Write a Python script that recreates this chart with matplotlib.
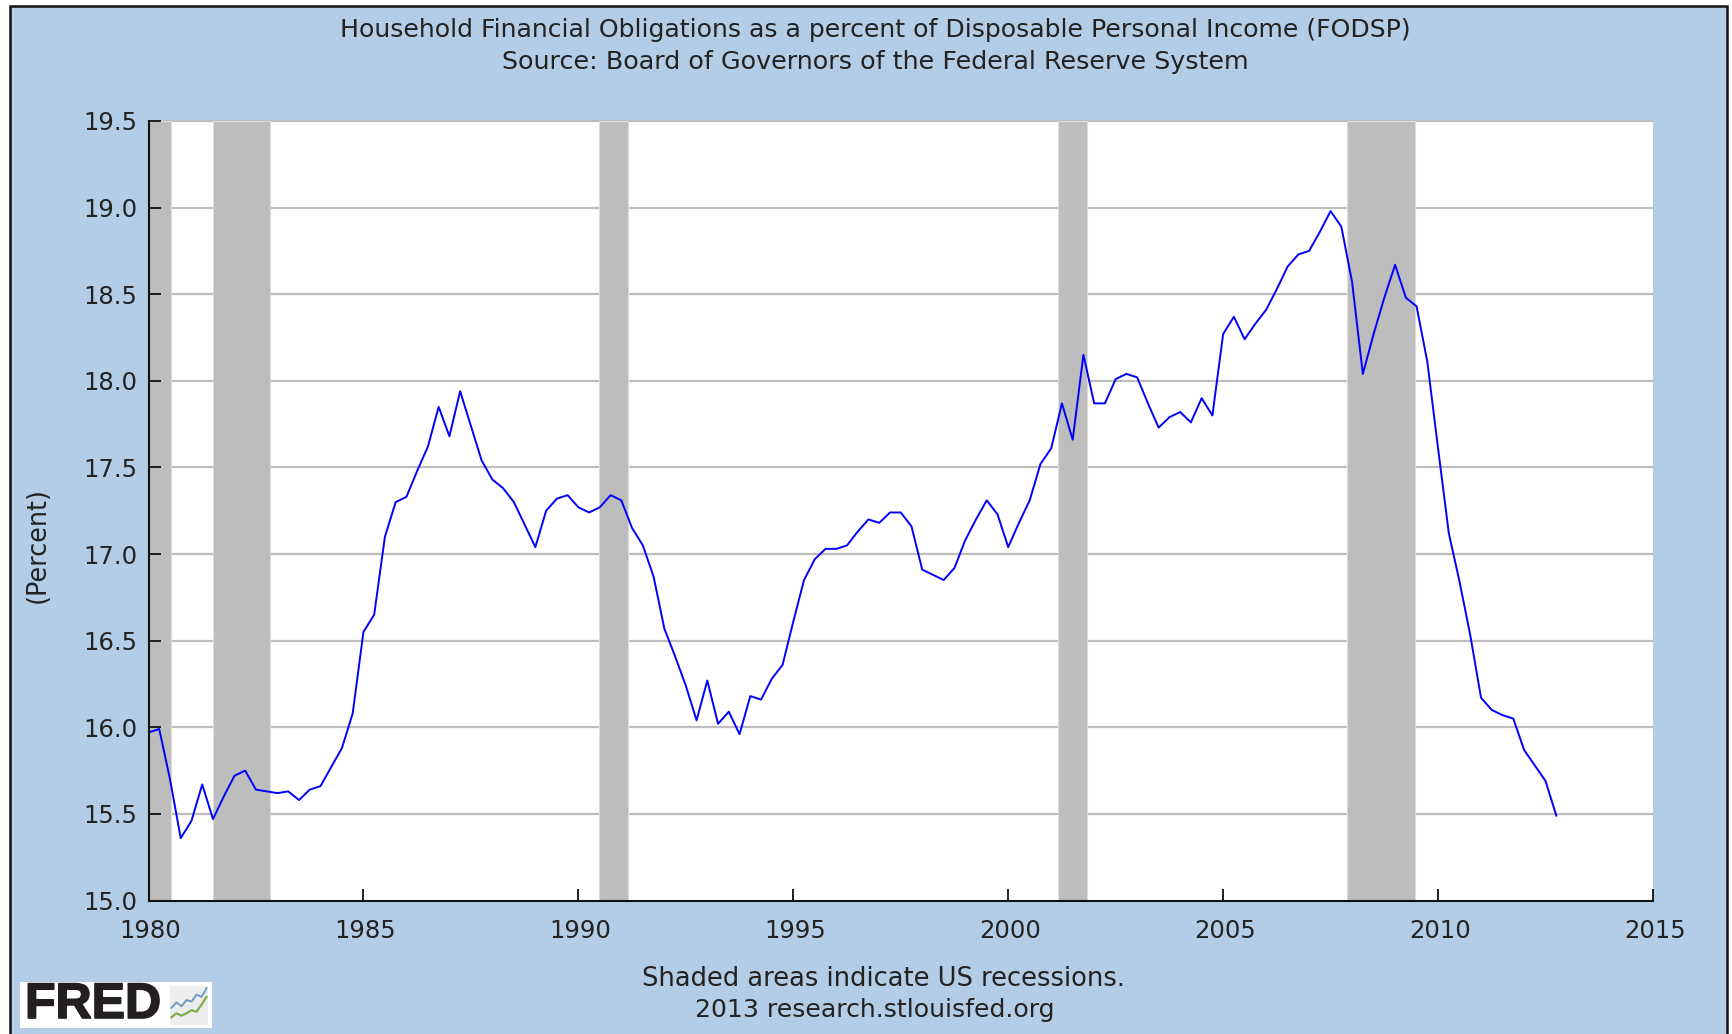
import numpy as np
import matplotlib
matplotlib.use('Agg')
import matplotlib.pyplot as plt
import matplotlib.patheffects as pe
from matplotlib.patches import Rectangle
from matplotlib.transforms import ScaledTranslation

# Квартальные значения FODSP, 1980Q1 - 2012Q4
fodsp = [
    15.97, 15.99, 15.70, 15.36, 15.46, 15.67, 15.47, 15.60,
    15.72, 15.75, 15.64, 15.63, 15.62, 15.63, 15.58, 15.64,
    15.66, 15.77, 15.88, 16.08, 16.55, 16.65, 17.10, 17.30,
    17.33, 17.48, 17.62, 17.85, 17.68, 17.94, 17.74, 17.54,
    17.43, 17.38, 17.30, 17.17, 17.04, 17.25, 17.32, 17.34,
    17.27, 17.24, 17.27, 17.34, 17.31, 17.15, 17.05, 16.87,
    16.57, 16.41, 16.24, 16.04, 16.27, 16.02, 16.09, 15.96,
    16.18, 16.16, 16.28, 16.36, 16.61, 16.85, 16.97, 17.03,
    17.03, 17.05, 17.13, 17.20, 17.18, 17.24, 17.24, 17.16,
    16.91, 16.88, 16.85, 16.92, 17.08, 17.20, 17.31, 17.23,
    17.04, 17.18, 17.31, 17.52, 17.61, 17.87, 17.66, 18.15,
    17.87, 17.87, 18.01, 18.04, 18.02, 17.87, 17.73, 17.79,
    17.82, 17.76, 17.90, 17.80, 18.27, 18.37, 18.24, 18.33,
    18.41, 18.53, 18.66, 18.73, 18.75, 18.86, 18.98, 18.89,
    18.57, 18.04, 18.27, 18.48, 18.67, 18.48, 18.43, 18.11,
    17.61, 17.12, 16.84, 16.53, 16.17, 16.10, 16.07, 16.05,
    15.87, 15.78, 15.69, 15.49,
]
quarters = 1980 + np.arange(len(fodsp)) / 4

# Рецессии (начало, конец)
recession_start = [1980.0, 1981.49, 1990.48, 2001.15, 2007.89]
recession_end = [1980.53, 1982.83, 1991.16, 2001.83, 2009.46]

y_ticks = [15.0, 15.5, 16.0, 16.5, 17.0, 17.5, 18.0, 18.5, 19.0, 19.5]
x_ticks = [1980, 1985, 1990, 1995, 2000, 2005, 2010, 2015]

# Линии значка FRED
icon_blue = [2.2, 2.9, 2.4, 3.2, 3.0, 3.9, 3.6, 4.7]
icon_green = [1.0, 1.5, 1.2, 1.5, 1.9, 1.7, 2.6, 3.6]

W, H = 1733, 1034
BG = '#B3CDE6'
TEXT = '#222222'


def fx(px):
    return px / W


def fy(py):
    return 1 - py / H


fig = plt.figure(figsize=(W / 100, H / 100), dpi=100, facecolor='white')

# Голубая подложка с чёрной рамкой
fig.add_artist(Rectangle((fx(10), fy(1040)), (1727.5 - 10) / W, (1040 - 5.5) / H,
                         transform=fig.transFigure, facecolor=BG,
                         edgecolor='#111111', linewidth=1.8, zorder=-2))

ax = fig.add_axes([fx(148.5), fy(900.5), (1653 - 148.5) / W, (900.5 - 121) / H])
ax.set_xlim(1980, 2015)
ax.set_ylim(15, 19.5)
ax.set_facecolor('white')
ax.set_axisbelow(False)

for y in y_ticks[1:]:
    ax.axhline(y, color='#BEBEBE', linewidth=1.6, zorder=1, clip_on=False)
for start, end in zip(recession_start, recession_end):
    ax.axvspan(start, end, facecolor='#BDBDBD', edgecolor='#DDDDDD',
               linewidth=0.8, zorder=2)
ax.plot(quarters, fodsp, color='#0000FF', linewidth=1.4, zorder=3)

ax.spines['top'].set_visible(False)
ax.spines['right'].set_visible(False)
for side in ('left', 'bottom'):
    ax.spines[side].set_color('#111111')
    ax.spines[side].set_linewidth(1.5)
    ax.spines[side].set_zorder(5)
ax.set_yticks(y_ticks)
ax.set_xticks(x_ticks)
ax.set_yticklabels(['%.1f' % v for v in y_ticks])
ax.set_xticklabels([str(v) for v in x_ticks])
ax.tick_params(axis='both', direction='in', length=8.5, width=1.3, color='#111111',
               labelcolor=TEXT, labelsize=17.5)
ax.tick_params(axis='y', pad=8)
ax.tick_params(axis='x', pad=13)

# Подписи оси X в оригинале чуть правее делений
label_shift = ScaledTranslation(2 / 100, 0, fig.dpi_scale_trans)
for label in ax.get_xticklabels():
    label.set_transform(label.get_transform() + label_shift)

fig.text(fx(875), fy(30), 'Household Financial Obligations as a percent of Disposable Personal Income (FODSP)',
         ha='center', va='center', fontsize=18.1, color=TEXT)
fig.text(fx(875), fy(62), 'Source: Board of Governors of the Federal Reserve System',
         ha='center', va='center', fontsize=18.3, color=TEXT)
fig.text(fx(38), fy(545), '(Percent)', rotation=90, ha='center', va='center', fontsize=18.4, color=TEXT)
fig.text(fx(884), fy(979), 'Shaded areas indicate US recessions.', ha='center', va='center',
         fontsize=18.5, color=TEXT)
fig.text(fx(875), fy(1010), '2013 research.stlouisfed.org', ha='center', va='center',
         fontsize=18.1, color=TEXT)

# Логотип FRED
fig.add_artist(Rectangle((fx(20), fy(1028)), 192 / W, 46 / H, transform=fig.transFigure,
                         facecolor='white', edgecolor='none', zorder=-1))
logo = fig.text(fx(25), fy(1005), 'FRED', ha='left', va='center', fontsize=36, fontweight='bold',
                family='Liberation Sans', color='#231F20')
logo.set_path_effects([pe.withStroke(linewidth=1.2, foreground='#231F20')])

icon = fig.add_axes([fx(170), fy(1025), 38 / W, 39 / H], facecolor='#EDEDED')
icon.plot(icon_blue, color='#6F9CC0', linewidth=1.4)
icon.plot(icon_green, color='#7FAE4A', linewidth=1.6)
icon.set_xlim(-0.3, 7.3)
icon.set_ylim(0, 5)
icon.set_xticks([])
icon.set_yticks([])
for side in icon.spines.values():
    side.set_visible(False)

fig.savefig('out.png', dpi=100, facecolor='white')
